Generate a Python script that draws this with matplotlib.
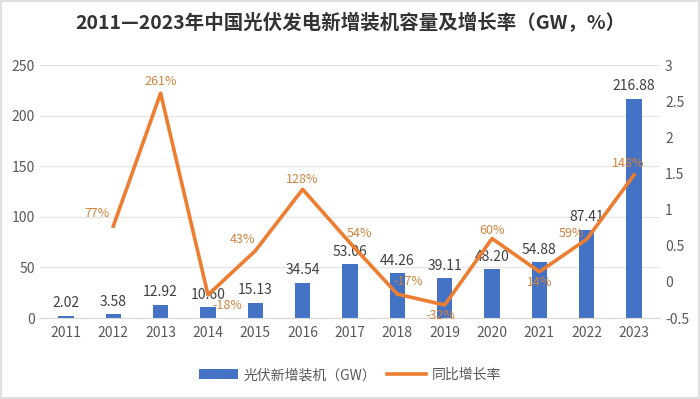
import matplotlib
matplotlib.use("Agg")
import matplotlib.pyplot as plt
from matplotlib.patches import Rectangle

plt.rcParams['font.family'] = ['Noto Sans CJK SC', 'DejaVu Sans']

YEARS = ["2011", "2012", "2013", "2014", "2015", "2016", "2017",
         "2018", "2019", "2020", "2021", "2022", "2023"]
CAPACITY = [2.02, 3.58, 12.92, 10.60, 15.13, 34.54, 53.06,
            44.26, 39.11, 48.20, 54.88, 87.41, 216.88]
# growth rate, first year has none
GROWTH = [None, 0.77, 2.61, -0.18, 0.43, 1.28, 0.54,
          -0.17, -0.32, 0.60, 0.14, 0.59, 1.48]
GROWTH_LABELS = [None, "77%", "261%", "-18%", "43%", "128%", "54%",
                 "-17%", "-32%", "60%", "14%", "59%", "148%"]

# label offsets in points (dx, dy) for the growth labels
GROWTH_OFFSETS = [None, (-12, 9), (0, 8.5), (14, -8), (-9, 8), (0, 7), (7, 7),
                  (8, 9), (-3, -7.5), (0, 5.5), (0, -8), (-11, 4), (-4, 8)]

BAR_COLOR = "#4472C4"
LINE_COLOR = "#ED7D31"
PCT_COLOR = "#D0843E"
TEXT_COLOR = "#595959"

fig = plt.figure(figsize=(7, 3.99), dpi=100)
fig.patches.append(Rectangle((0.002, 0.003), 0.996, 0.994, transform=fig.transFigure,
                             fill=False, edgecolor="#D9D9D9", linewidth=1.2))

ax = fig.add_axes([0.057, 0.203, 0.886, 0.634])
x = list(range(len(YEARS)))
ax.bar(x, CAPACITY, width=0.32, color=BAR_COLOR, zorder=2,
       label="光伏新增装机（GW）")
ax.set_ylim(0, 250)
ax.set_yticks([0, 50, 100, 150, 200, 250])
ax.set_xlim(-0.55, len(YEARS) - 0.45)
ax.set_xticks(x)
ax.set_xticklabels(YEARS)
ax.grid(axis="y", color="#E6E6E6", linewidth=1, zorder=0)
ax.tick_params(length=0, labelsize=10, colors=TEXT_COLOR)
ax.tick_params(axis="x", pad=6)
for s in ["top", "left", "right"]:
    ax.spines[s].set_visible(False)
ax.spines["bottom"].set_color("#D9D9D9")

for xi, v in zip(x, CAPACITY):
    ax.annotate(f"{v:.2f}", (xi, v), xytext=(0, 4), textcoords="offset points",
                ha="center", va="bottom", fontsize=10, color="#404040", zorder=4)

ax2 = ax.twinx()
gx = [xi for xi, g in zip(x, GROWTH) if g is not None]
gy = [g for g in GROWTH if g is not None]
ax2.plot(gx, gy, color=LINE_COLOR, linewidth=2.6, zorder=3, label="同比增长率")
ax2.set_ylim(-0.5, 3)
ax2.set_yticks([-0.5, 0, 0.5, 1, 1.5, 2, 2.5, 3])
ax2.set_yticklabels(["-0.5", "0", "0.5", "1", "1.5", "2", "2.5", "3"])
ax2.tick_params(length=0, labelsize=10, colors=TEXT_COLOR)
for s in ["top", "left", "right", "bottom"]:
    ax2.spines[s].set_visible(False)

for xi, g, lab, off in zip(x, GROWTH, GROWTH_LABELS, GROWTH_OFFSETS):
    if g is None:
        continue
    ax2.annotate(lab, (xi, g), xytext=off, textcoords="offset points",
                 ha="center", va="center", fontsize=9, color=PCT_COLOR, zorder=5)

fig.suptitle("2011—2023年中国光伏发电新增装机容量及增长率（GW，%）", y=0.943, va="center",
             fontsize=14, fontweight="bold", color="#333333")

h1, l1 = ax.get_legend_handles_labels()
h2, l2 = ax2.get_legend_handles_labels()
fig.legend(h1 + h2, l1 + l2, loc="center", bbox_to_anchor=(0.5, 0.06), ncol=2,
           frameon=False, fontsize=10, labelcolor=TEXT_COLOR, handlelength=2.8,
           columnspacing=0.8, handletextpad=0.4)

fig.savefig("out.png", dpi=100)
